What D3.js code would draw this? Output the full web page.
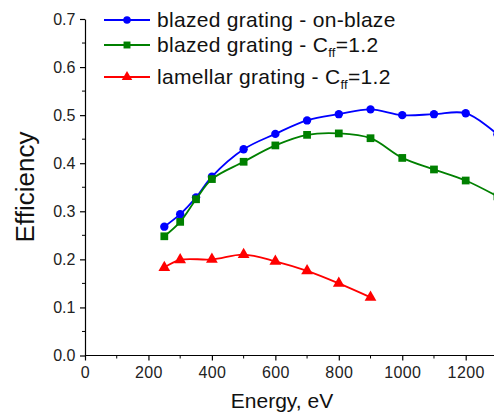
<!DOCTYPE html>
<html><head><meta charset="utf-8">
<script src="https://cdn.jsdelivr.net/npm/d3@7"></script>
<style>html,body{margin:0;padding:0;background:#fff;} svg{display:block;}</style>
</head><body>
<svg id="c" width="494" height="415"></svg>
<script>
const energy = [250,300,350,400,500,600,700,800,900,1000,1100,1200,1300];
const blazedOnBlaze = [0.268,0.294,0.329,0.372,0.429,0.461,0.489,0.502,0.512,0.500,0.502,0.504,0.460];
const blazedCff = [0.248,0.278,0.325,0.367,0.403,0.437,0.459,0.462,0.452,0.411,0.387,0.364,0.331];
const lamellarEnergy = [250,300,400,500,600,700,800,900];
const lamellarCff = [0.183,0.199,0.200,0.210,0.196,0.176,0.150,0.121];
const xTicks = [0,200,400,600,800,1000,1200];
const yTicks = [0.0,0.1,0.2,0.3,0.4,0.5,0.6,0.7];
const legendLabels = ["blazed grating - on-blaze","blazed grating - C","lamellar grating - C"];

const svg = d3.select("#c");
const x = d3.scaleLinear().domain([0,1200]).range([85,465.7]);
const y = d3.scaleLinear().domain([0,0.7]).range([355.5,19]);
const font = "Arial, 'Liberation Sans', sans-serif";

// axes
const xAxis = d3.axisBottom(x).tickValues(xTicks).tickFormat(d3.format("d")).tickSize(5).tickSizeOuter(0);
const gx = svg.append("g").attr("transform","translate(0,355.5)").call(xAxis);
gx.select(".domain").attr("d","M85,0H494");
const xMinor = d3.range(100,1300,200);
gx.selectAll(".minor").data(xMinor).enter().append("line").attr("class","minor")
  .attr("x1",d=>x(d)).attr("x2",d=>x(d)).attr("y1",0).attr("y2",3).attr("stroke","#000");
gx.selectAll("text").attr("font-family",font).attr("font-size",16).attr("letter-spacing","0.4px").attr("fill","#222").attr("dy","0.9em");

const yAxis = d3.axisLeft(y).tickValues(yTicks).tickFormat(d3.format(".1f")).tickSize(5).tickSizeOuter(0);
const gy = svg.append("g").attr("transform","translate(85,0)").call(yAxis);
const yMinor = d3.range(0.05,0.7,0.1);
gy.selectAll(".minor").data(yMinor).enter().append("line").attr("class","minor")
  .attr("x1",0).attr("x2",-3).attr("y1",d=>y(d)).attr("y2",d=>y(d)).attr("stroke","#000");
gy.selectAll("text").attr("font-family",font).attr("font-size",16).attr("fill","#222").attr("dx","-0.1em");
svg.selectAll(".domain,.tick line").attr("stroke","#000").attr("stroke-width",1.2);

svg.append("text").attr("x",282).attr("y",408).attr("text-anchor","middle")
  .attr("font-family",font).attr("font-size",21).attr("fill","#111").text("Energy, eV");
svg.append("text").attr("transform","translate(33.5,187) rotate(-90)").attr("text-anchor","middle")
  .attr("font-family",font).attr("font-size",26).attr("fill","#111").text("Efficiency");

// series
const plot = svg.append("g");
const line = d3.line().x(d=>x(d[0])).y(d=>y(d[1])).curve(d3.curveCatmullRom.alpha(0.5));
const series = [
  {xs:energy, ys:blazedOnBlaze, color:"#0000ff", sym:d3.symbolCircle, size:55},
  {xs:energy, ys:blazedCff, color:"#008000", sym:d3.symbolSquare, size:60},
  {xs:lamellarEnergy, ys:lamellarCff, color:"#ff0000", sym:d3.symbolTriangle, size:60}
];
series.forEach(s=>{
  const pts = s.xs.map((e,i)=>[e,s.ys[i]]);
  plot.append("path").datum(pts).attr("d",line).attr("fill","none").attr("stroke",s.color).attr("stroke-width",1.8);
  plot.selectAll(null).data(pts).enter().append("path")
    .attr("d",d3.symbol().type(s.sym).size(s.size))
    .attr("transform",d=>`translate(${x(d[0])},${y(d[1])})`)
    .attr("fill",s.color);
});

// legend
const legY = [20,45,77];
series.forEach((s,i)=>{
  const g = svg.append("g").attr("transform",`translate(0,${legY[i]})`);
  g.append("line").attr("x1",104).attr("x2",150).attr("y1",0).attr("y2",0).attr("stroke",s.color).attr("stroke-width",1.8);
  g.append("path").attr("d",d3.symbol().type(s.sym).size(s.size*0.8)).attr("transform","translate(127,0)").attr("fill",s.color);
  const t = g.append("text").attr("x",157).attr("y",7).attr("font-family",font).attr("font-size",21).attr("letter-spacing","0.3px").attr("fill","#111");
  t.append("tspan").text(legendLabels[i]);
  if(i>0){
    t.append("tspan").attr("font-size",13).attr("dy",5).text("ff");
    t.append("tspan").attr("dy",-5).text("=1.2");
  }
});
</script>
</body></html>
